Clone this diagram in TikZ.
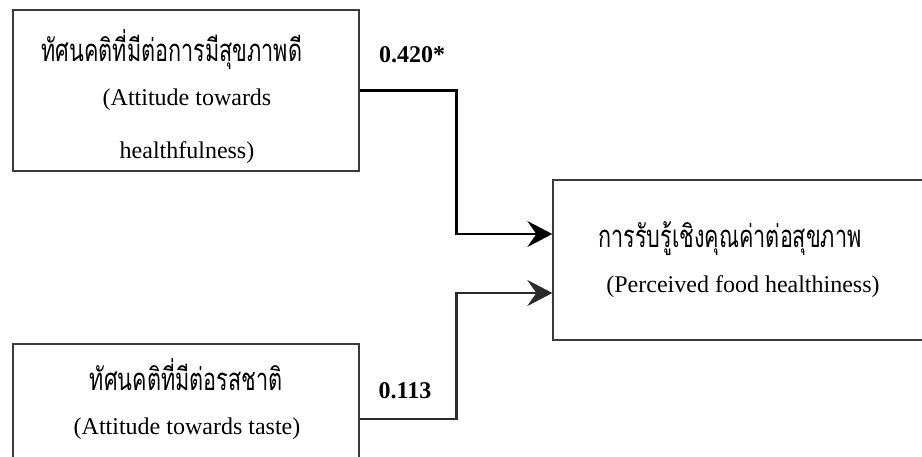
\documentclass[tikz,border=0pt]{standalone}
\usepackage{fontspec}
\setmainfont{Liberation Serif}
\newfontfamily\thaifont[Script=Thai]{Loma}
\usetikzlibrary{arrows.meta}
\definecolor{boxgray}{HTML}{3A3A3A}
\definecolor{conngray}{HTML}{2B2B2B}
\newcommand{\thaitext}[1]{\scalebox{0.94}[1.35]{\thaifont\fontsize{23}{27}\selectfont #1}}
\tikzset{
  boxstyle/.style={draw=boxgray, line width=1.3pt, rectangle, inner sep=0pt},
  conn/.style={line width=2.7pt, -{Stealth[length=25pt, width=26pt, inset=9pt]}},
  thailine/.style={anchor=base},
  latline/.style={anchor=base, font=\fontsize{24}{28}\selectfont},
  coef/.style={anchor=base, font=\bfseries\fontsize{24}{28}\selectfont}
}
\begin{document}
\begin{tikzpicture}[x=1pt, y=-1pt]
\useasboundingbox (0,0) rectangle (922,457);
\clip (0,0) rectangle (922,457);
\fill[white] (0,0) rectangle (922,457);
% boxes
\node[boxstyle, minimum width=346pt, minimum height=161pt] (a) at (186,90.5) {};
\node[boxstyle, minimum width=346pt, minimum height=150pt] (b) at (186,419) {};
\node[boxstyle, minimum width=380pt, minimum height=160pt] (c) at (743,260) {};
% texts
\node[thailine] (a1) at (172,62) {\thaitext{ทัศนคติที่มีต่อการมีสุขภาพดี}};
\node[latline] (a2) at (187,106) {(Attitude towards};
\node[latline] (a3) at (187,159) {healthfulness)};
\node[thailine] (c1) at (730,248) {\thaitext{การรับรู้เชิงคุณค่าต่อสุขภาพ}};
\node[latline] (c2) at (743,293) {(Perceived food healthiness)};
\node[thailine] (b1) at (186,391) {\thaitext{ทัศนคติที่มีต่อรสชาติ}};
\node[latline] (b2) at (187,435) {(Attitude towards taste)};
\node[coef] (k1) at (412,63) {0.420*};
\node[coef] (k2) at (405,399) {0.113};
% connectors
\draw[conn, draw=black] (a.east) -- ++(97,0) |- ([yshift=26pt]c.west);
\draw[conn, draw=conngray] (b.east) -- ++(97,0) |- ([yshift=-33pt]c.west);
\end{tikzpicture}
\end{document}
